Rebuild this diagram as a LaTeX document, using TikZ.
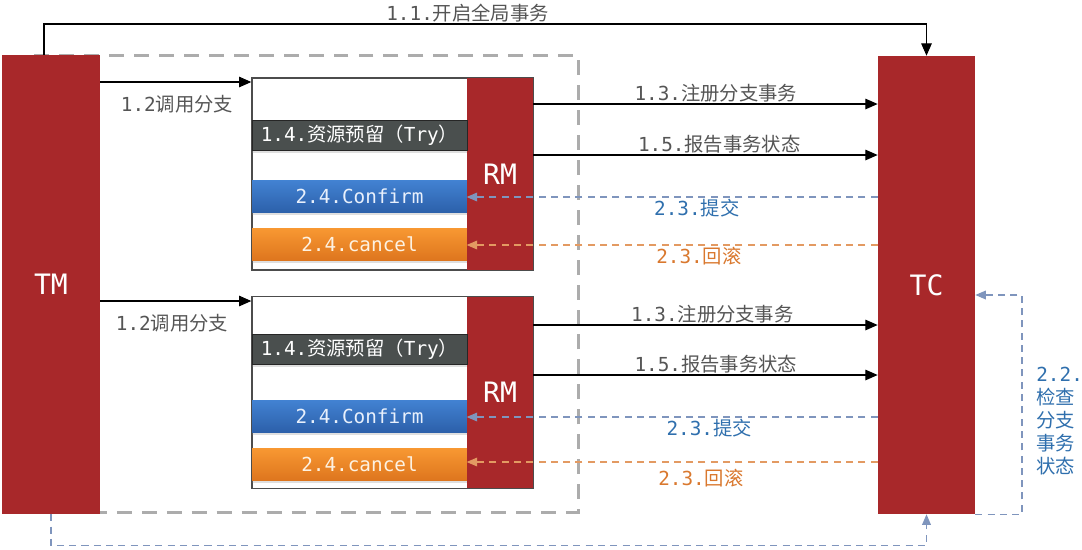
\documentclass[tikz,border=0pt]{standalone}
\usepackage{fontspec}
\setmainfont{DejaVu Sans Mono}
\newfontfamily\cjk{Noto Sans CJK SC}
\newcommand{\zh}[1]{{\cjk #1}}
\usetikzlibrary{arrows.meta, positioning, shadows}

\definecolor{boxred}{HTML}{A8282A}
\definecolor{trygray}{HTML}{4A4F4E}
\definecolor{labelgray}{HTML}{555555}
\definecolor{commitblue}{HTML}{2F6FAD}
\definecolor{commitline}{HTML}{7F95BD}
\definecolor{rollorange}{HTML}{D9782E}
\definecolor{rollline}{HTML}{E39A62}
\definecolor{confirmtop}{RGB}{66,130,210}
\definecolor{confirmbot}{RGB}{44,96,170}
\definecolor{confirmtext}{RGB}{232,240,252}
\definecolor{canceltop}{RGB}{248,152,50}
\definecolor{cancelbot}{RGB}{222,118,30}
\definecolor{canceltext}{RGB}{253,242,226}

\begin{document}
\begin{tikzpicture}[
    x=0.02cm, y=-0.02cm,
    font=\fontsize{11}{13}\selectfont,
    actor/.style={fill=boxred, draw=none, text=white, inner sep=0pt,
      font=\fontsize{16}{19}\selectfont},
    branchbox/.style={draw=black!70, line width=0.8pt, fill=white,
      minimum width=5.62cm, minimum height=3.84cm, inner sep=0pt},
    softshadow/.style={drop shadow={opacity=0.25, shadow xshift=0pt, shadow yshift=-1.5pt}},
    trybox/.style={fill=trygray, draw=black!85, text=white, inner sep=0pt,
      minimum width=4.3cm, minimum height=0.6cm, softshadow},
    confirmbox/.style={top color=confirmtop, bottom color=confirmbot,
      text=confirmtext, inner sep=0pt,
      minimum width=4.3cm, minimum height=0.64cm, softshadow},
    cancelbox/.style={top color=canceltop, bottom color=cancelbot,
      text=canceltext, inner sep=0pt,
      minimum width=4.3cm, minimum height=0.64cm, softshadow},
    call/.style={-{Triangle[length=7pt,width=6pt]}, line width=0.6pt, black},
    commit/.style={-{Triangle[length=6pt,width=5pt]}, commitline, line width=0.6pt,
      dash pattern=on 4pt off 3pt},
    rollback/.style={-{Triangle[length=6pt,width=5pt]}, rollline, line width=0.6pt,
      dash pattern=on 4pt off 3pt},
    lbl/.style={text=labelgray, inner sep=1pt}
  ]
  \useasboundingbox (0,0) rectangle (1082,549);

  % scope of the global transaction
  \draw[gray!65, line width=1.7pt, dash pattern=on 8.5pt off 5.7pt]
    (25,55) rectangle (578,512);

  % TM and TC
  \node[actor, minimum width=1.96cm, minimum height=9.18cm] (tm) at (51,284.5) {TM};
  \node[actor, minimum width=1.94cm, minimum height=9.16cm] (tc) at (926.5,285) {TC};

  % first branch
  \node[branchbox] (branch1) at (392.5,174) {};
  \node[actor, minimum width=1.32cm, minimum height=3.84cm] (rm1) at (500,174) {RM};
  \node[trybox] (try1) at (359.5,135) {1.4.\zh{资源预留（}Try\zh{）}};
  \node[confirmbox] (confirm1) at (359.5,196.5) {2.4.Confirm};
  \node[cancelbox] (cancel1) at (359.5,244) {2.4.cancel};

  % second branch
  \node[branchbox] (branch2) at (392.5,392.5) {};
  \node[actor, minimum width=1.32cm, minimum height=3.82cm] (rm2) at (500,392.5) {RM};
  \node[trybox] (try2) at (359.5,349.5) {1.4.\zh{资源预留（}Try\zh{）}};
  \node[confirmbox] (confirm2) at (359.5,416) {2.4.Confirm};
  \node[cancelbox] (cancel2) at (359.5,464) {2.4.cancel};

  % 1.1 begin global transaction
  \draw[call] (tm.north -| 44,0) -- (44,24) -| (tc.north)
    node[lbl, above, pos=0.24] {1.1.\zh{开启全局事务}};

  % calls from TM to the branches
  \draw[call] (tm.east |- 0,82) -- (branch1.west |- 0,82);
  \node[lbl] at (177,104) {1.2\zh{调用分支}};
  \draw[call] (tm.east |- 0,301) -- (branch2.west |- 0,301);
  \node[lbl] at (172,323) {1.2\zh{调用分支}};

  % branch 1 <-> TC
  \draw[call] (rm1.east |- 0,104) -- (tc.west |- 0,104)
    node[lbl, above, pos=0.53] {1.3.\zh{注册分支事务}};
  \draw[call] (rm1.east |- 0,155) -- (tc.west |- 0,155)
    node[lbl, above, pos=0.54] {1.5.\zh{报告事务状态}};
  \draw[commit] (tc.west |- 0,197) -- (rm1.west |- 0,197)
    node[below, pos=0.44, inner sep=1pt, text=commitblue] {2.3.\zh{提交}};
  \draw[rollback] (tc.west |- 0,245) -- (rm1.west |- 0,245)
    node[below, pos=0.435, inner sep=1pt, text=rollorange] {2.3.\zh{回滚}};

  % branch 2 <-> TC
  \draw[call] (rm2.east |- 0,325) -- (tc.west |- 0,325)
    node[lbl, above, pos=0.52] {1.3.\zh{注册分支事务}};
  \draw[call] (rm2.east |- 0,375) -- (tc.west |- 0,375)
    node[lbl, above, pos=0.53] {1.5.\zh{报告事务状态}};
  \draw[commit] (tc.west |- 0,417) -- (rm2.west |- 0,417)
    node[below, pos=0.41, inner sep=1pt, text=commitblue] {2.3.\zh{提交}};
  \draw[rollback] (tc.west |- 0,462) -- (rm2.west |- 0,462)
    node[below, pos=0.43, inner sep=1pt, text=rollorange, yshift=-0.1cm] {2.3.\zh{回滚}};

  % 2.2 check branch status
  \draw[commit] (tm.south) -- ++(0,31) -| (tc.south);
  \coordinate (check) at (1022,295);
  \draw[commit] (tc.south east) -| (check) -- (check -| tc.east);
  \node[anchor=west, align=left, text=commitblue, inner sep=0pt,
    font=\fontsize{11}{13}\selectfont] (checklbl) at (1036,421)
    {2.2.\\ \zh{检查}\\ \zh{分支}\\ \zh{事务}\\ \zh{状态}};
\end{tikzpicture}
\end{document}
